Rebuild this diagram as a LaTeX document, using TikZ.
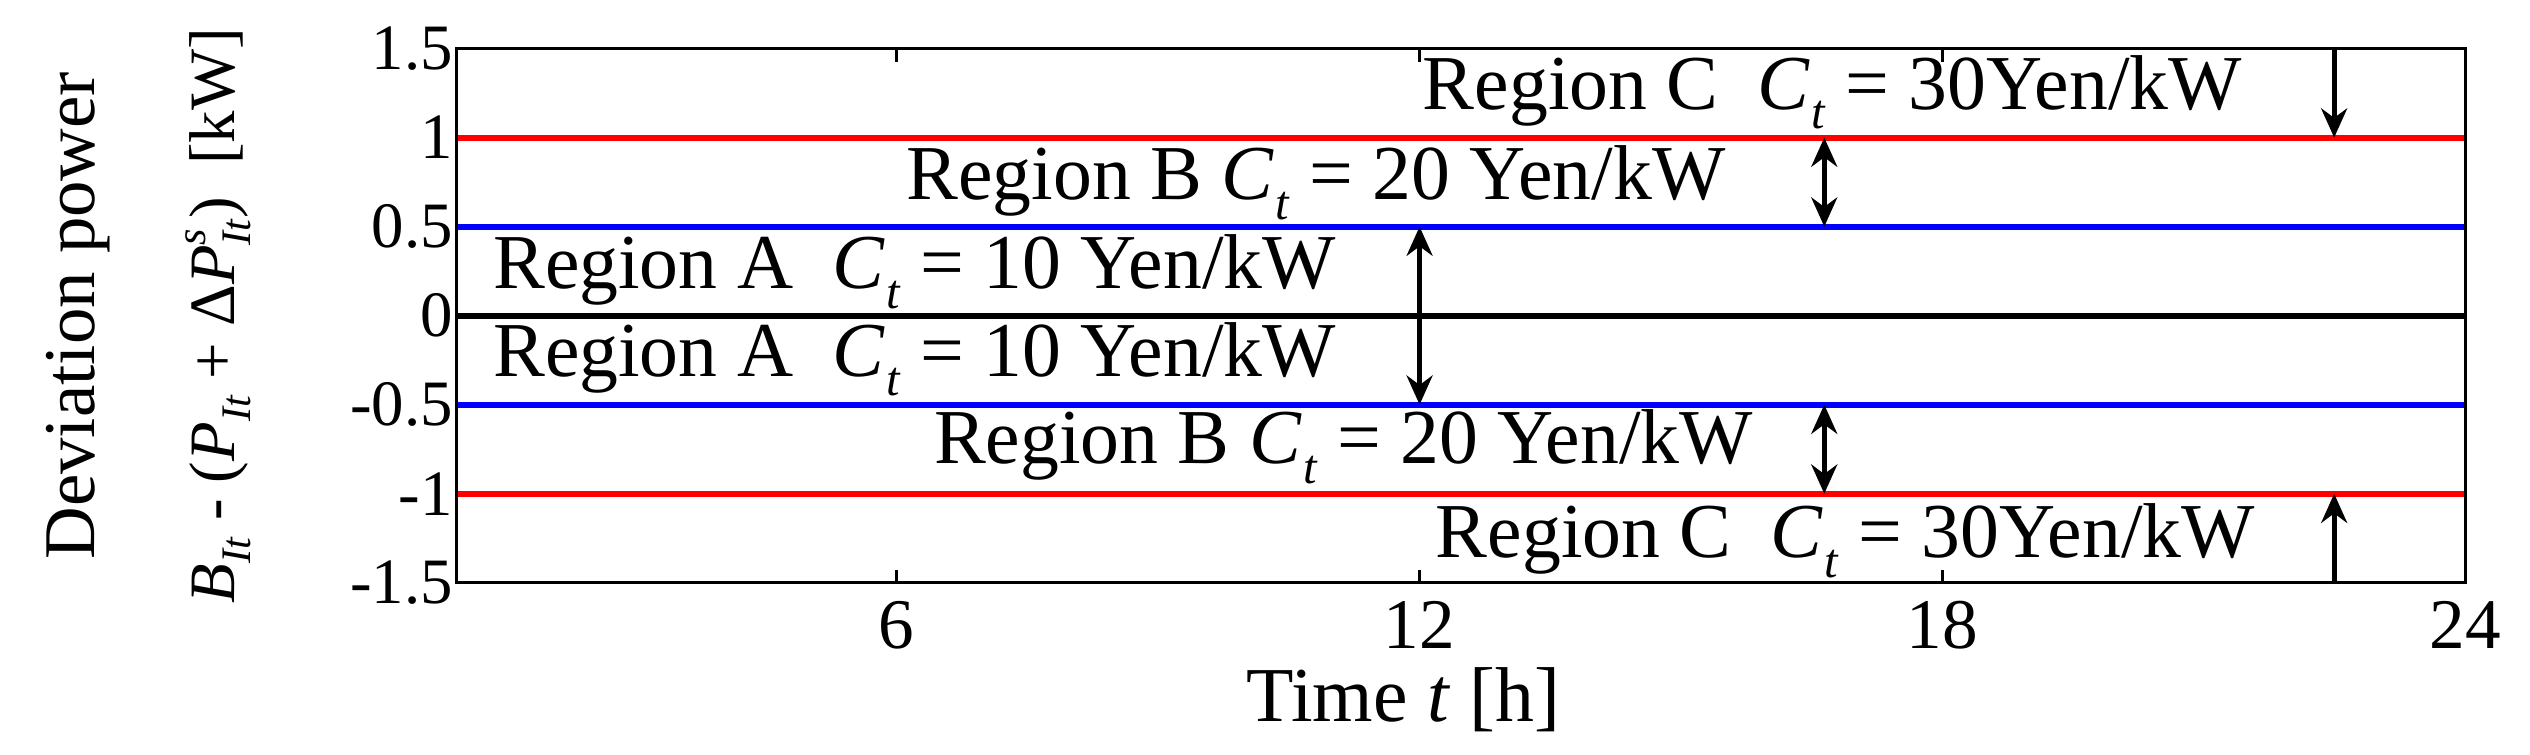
\documentclass[tikz,border=0pt]{standalone}
\usepackage{fontspec}
\setmainfont{Liberation Serif}
\usetikzlibrary{arrows.meta}
\newcommand{\Ct}{\textit{C}\kern0.5pt\raisebox{-0.25em}{\fontsize{15}{16}\selectfont\textit{t}}}
\tikzset{lbl/.style={font=\fontsize{20}{22}\selectfont, inner sep=0pt},
 reg/.style={font=\fontsize{24}{26}\selectfont, inner sep=0pt},
 hl/.style={line width=1.8pt},
 arr/.style={line width=1.6pt,-{Stealth[length=9pt,width=8pt]}},
 darr/.style={line width=1.6pt,{Stealth[length=9pt,width=8pt]}-{Stealth[length=9pt,width=8pt]}}}
\begin{document}
\begin{tikzpicture}[x=0.5pt,y=-0.5pt]
\useasboundingbox (0,0) rectangle (1563,466);
\coordinate (bl) at (282,360); \coordinate (tr) at (1523,30);
\draw[hl,red] (282,85) -- (1523,85);
\draw[hl,red] (282,305) -- (1523,305);
\draw[hl,blue] (282,140) -- (1523,140);
\draw[hl,blue] (282,250) -- (1523,250);
\draw[hl,black] (282,195) -- (1523,195);
\draw[line width=1pt] (bl) rectangle (tr);
\foreach \y/\t in {30/1.5,85/1,140/0.5,195/0,250/-0.5,305/-1,360/-1.5}
  \node[lbl,anchor=east] (y\y) at (280,\y) {\t};
\foreach \x/\t in {554/6,877/12,1200/18,1523/24}{
  \draw[line width=1pt] (\x,360) -- (\x,352);
  \draw[line width=1pt] (\x,30) -- (\x,38);
  \node[lbl,font=\fontsize{22}{24}\selectfont] (x\t) at (\x,386) {\t};}
\node[reg] (xl) at (867,432) {Time \textit{t} [h]};
\node[font=\fontsize{22.5}{24}\selectfont,rotate=90,inner sep=0pt] (yl1) at (48,195) {Deviation power};
\node[lbl,rotate=90,font=\fontsize{20}{22}\selectfont] (yl2) at (135,195) {\textit{B}\raisebox{-0.25em}{\fontsize{13}{14}\selectfont\textit{It}} - (\textit{P}\raisebox{-0.25em}{\fontsize{13}{14}\selectfont\textit{It}} + Δ\textit{P}\rlap{\raisebox{0.45em}{\fontsize{13}{14}\selectfont\textit{s}}}\raisebox{-0.25em}{\fontsize{13}{14}\selectfont\textit{It}})\ \ [kW]};
\node[reg] (rc1) at (1132,57) {Region C\ \ \Ct{} = 30Yen/kW};
\node[reg] (rb1) at (813,113) {Region B\ \Ct{} = 20 Yen/kW};
\node[reg] (ra1) at (565,168) {Region A\ \ \Ct{} = 10 Yen/kW};
\node[reg] (ra2) at (565,222) {Region A\ \ \Ct{} = 10 Yen/kW};
\node[reg] (rb2) at (830,276) {Region B\ \Ct{} = 20 Yen/kW};
\node[reg] (rc2) at (1140,334) {Region C\ \ \Ct{} = 30Yen/kW};
\coordinate (a1) at (1442,30); \coordinate (a2) at (1442,85);
\coordinate (b1) at (1127,85); \coordinate (b2) at (1127,140);
\coordinate (c1) at (877,140); \coordinate (c2) at (877,250);
\coordinate (d1) at (1127,250); \coordinate (d2) at (1127,305);
\coordinate (e1) at (1442,360); \coordinate (e2) at (1442,305);
\draw[arr] (a1) -- (a2);
\draw[darr] (b1) -- (b2);
\draw[darr] (c1) -- (c2);
\draw[darr] (d1) -- (d2);
\draw[arr] (e1) -- (e2);
\end{tikzpicture}
\end{document}
